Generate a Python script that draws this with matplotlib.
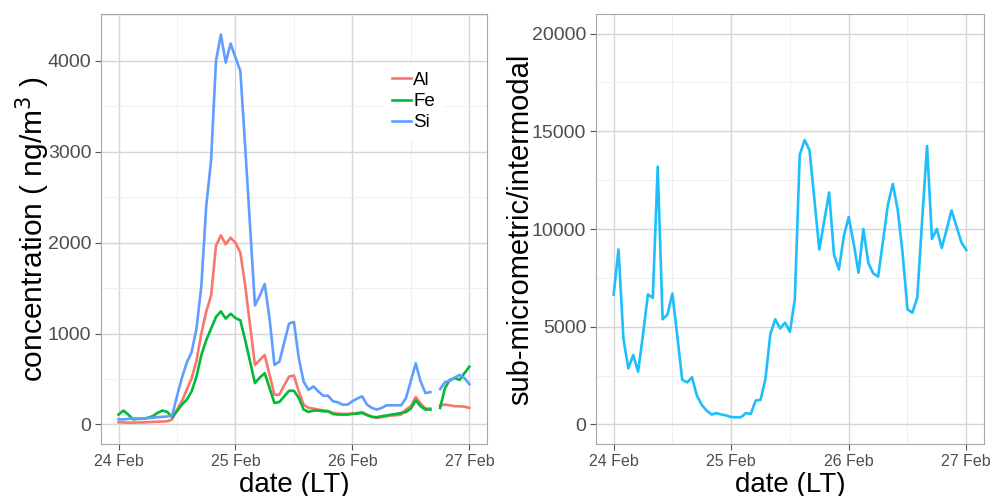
import numpy as np
import matplotlib
matplotlib.use("Agg")
import matplotlib.pyplot as plt
from matplotlib.ticker import MultipleLocator

plt.rcParams['font.family'] = ['Liberation Sans', 'DejaVu Sans']

# hours since 24 Feb 00:00 (LT), hourly samples
hours = np.arange(0, 73)
nan = np.nan

# concentrations (ng/m3)
al = [25, 22, 20, 20, 22, 22, 25, 28, 30, 32, 35, 55, 164, 255, 382, 509, 700, 1000,
      1240, 1418, 1964, 2080, 1982, 2054, 2000, 1890, 1527, 1090, 655, 709, 764, 545,
      327, 327, 430, 527, 538, 364, 218, 182, 175, 164, 156, 145, 127, 120, 116, 116,
      120, 127, 135, 109, 84, 73, 80, 91, 98, 102, 109, 164, 200, 302, 230, 175, 175,
      nan, 211, 218, 211, 200, 200, 196, 182]
fe = [109, 153, 109, 55, 62, 62, 73, 91, 127, 153, 138, 80, 145, 218, 273, 364, 527, 764,
      927, 1055, 1182, 1244, 1164, 1218, 1171, 1145, 927, 691, 455, 516, 564, 400,
      236, 247, 309, 371, 371, 291, 164, 138, 153, 153, 145, 145, 116, 109, 109, 109,
      116, 120, 127, 102, 84, 80, 91, 98, 109, 116, 127, 138, 175, 265, 200, 164, 164,
      nan, 182, 400, 491, 509, 491, 564, 636]
si = [58, 55, 62, 65, 65, 65, 70, 73, 80, 84, 88, 98, 310, 511, 680, 795, 1055, 1527,
      2400, 2909, 4000, 4290, 3980, 4190, 4036, 3890, 3050, 2180, 1310, 1418, 1545, 1164,
      655, 690, 900, 1110, 1127, 727, 470, 380, 418, 364, 316, 316, 255, 244, 218, 218,
      255, 285, 310, 218, 182, 164, 182, 211, 211, 211, 211, 290, 480, 672, 473, 345, 356,
      nan, 389, 465, 480, 516, 545, 510, 444]

# sub-micrometric / intermodal ratio
ratio = [6650, 8950, 4400, 2870, 3550, 2700, 4600, 6650, 6480, 13190, 5380, 5630, 6700,
         4530, 2290, 2150, 2410, 1480, 1000, 710, 510, 580, 510, 460, 380, 370, 370, 580,
         540, 1220, 1260, 2330, 4620, 5380, 4910, 5210, 4740, 6400, 13790, 14550, 14040,
         11500, 8950, 10400, 11870, 8690, 7930, 9630, 10610, 9290, 7760, 10000, 8270, 7730,
         7560, 9370, 11240, 12310, 10990, 8780, 5890, 5720, 6490, 10480, 14250, 9490, 10000,
         9030, 9970, 10950, 10140, 9320, 8920]

date_ticks = [0, 24, 48, 72]
date_labels = ['24 Feb', '25 Feb', '26 Feb', '27 Feb']

fig = plt.figure(figsize=(9.92, 4.96), dpi=100)
ax1 = fig.add_axes([0.1018, 0.1048, 0.389, 0.867])
ax2 = fig.add_axes([0.6008, 0.1048, 0.391, 0.867])


def style(ax, ymajor, yminor):
    ax.set_xlim(-3.6, 75.6)
    ax.set_xticks(date_ticks)
    ax.set_xticklabels(date_labels)
    ax.xaxis.set_minor_locator(MultipleLocator(12))
    ax.yaxis.set_major_locator(MultipleLocator(ymajor))
    ax.yaxis.set_minor_locator(MultipleLocator(yminor))
    ax.grid(which='major', color='#D6D6D6', lw=1.0)
    ax.grid(which='minor', color='#EFEFEF', lw=0.7)
    ax.set_axisbelow(True)
    for s in ax.spines.values():
        s.set_color('#A6A6A6')
        s.set_linewidth(0.8)
    ax.tick_params(which='major', length=4, width=0.8, color='#555555',
                   labelcolor='#4D4D4D', pad=3)
    ax.tick_params(which='minor', length=0)
    ax.tick_params(axis='x', labelsize=11.5)
    ax.tick_params(axis='y', labelsize=14)
    ax.set_xlabel('date (LT)', fontsize=20, labelpad=2)


ax1.plot(hours, al, color='#F8766D', lw=1.9, label='Al')
ax1.plot(hours, fe, color='#00BA38', lw=1.9, label='Fe')
ax1.plot(hours, si, color='#619CFF', lw=1.9, label='Si')
ax1.set_ylim(-215, 4515)
style(ax1, 1000, 500)
ax1.set_ylabel('concentration ( ng/m$^{3}$ )', fontsize=21.5, labelpad=-3)
leg = ax1.legend(loc='upper left', bbox_to_anchor=(0.71, 0.905), fontsize=13.5,
                 frameon=True, handlelength=1.0, handletextpad=0.15,
                 labelspacing=0.22, borderpad=0.4)
leg.get_frame().set_edgecolor('white')
leg.get_frame().set_facecolor('white')
leg.get_frame().set_alpha(1)

ax2.plot(hours, ratio, color='#1EBEFA', lw=1.9)
ax2.set_ylim(-1000, 21000)
style(ax2, 5000, 2500)
ax2.set_ylabel('sub-micrometric/intermodal', fontsize=21, labelpad=-2)

fig.savefig('out.png', dpi=100)
